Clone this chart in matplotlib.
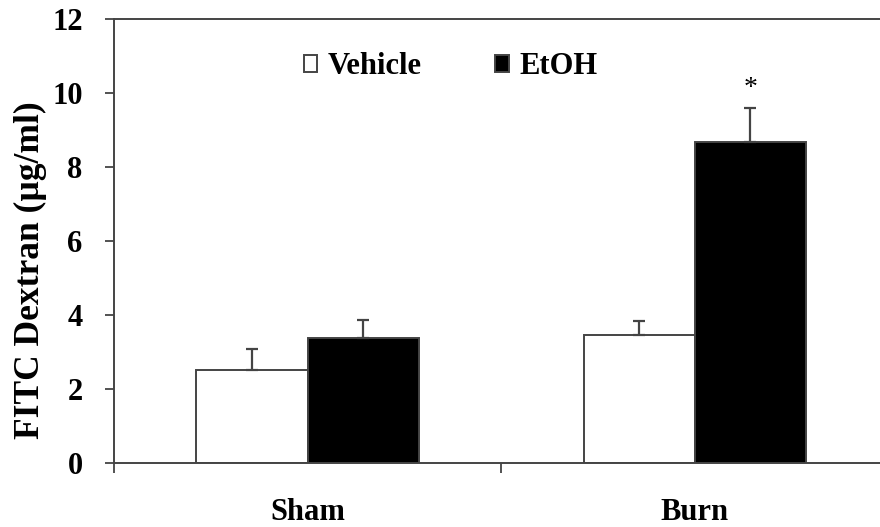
import matplotlib
matplotlib.use("Agg")
import matplotlib.pyplot as plt
from matplotlib.patches import Patch
import numpy as np

# FITC dextran in serum, mean + SEM
groups = ["Sham", "Burn"]
vehicle = [2.52, 3.46]
vehicle_err = [0.57, 0.38]
etoh = [3.38, 8.69]
etoh_err = [0.49, 0.91]

plt.rcParams["font.family"] = ["Liberation Serif", "DejaVu Serif"]
plt.rcParams["font.weight"] = "bold"

fig = plt.figure(figsize=(8.8, 5.27), dpi=100)
ax = fig.add_axes([0.1295, 0.1214, 0.88, 0.8416])

x = np.arange(len(groups))
w = 0.287
edge = "#444444"
err_kw = dict(ecolor=edge, elinewidth=1.6, capsize=4, capthick=1.6)

ax.bar(x - w / 2, vehicle, w, color="white", edgecolor=edge, linewidth=1.4,
       yerr=[np.zeros(2), vehicle_err], error_kw=err_kw, zorder=2)
ax.bar(x + w / 2, etoh, w, color="black", edgecolor=edge, linewidth=1.4,
       yerr=[np.zeros(2), etoh_err], error_kw=err_kw, zorder=2)

# significance marker over Burn / EtOH
ax.annotate("*", (x[1] + w / 2, etoh[1] + etoh_err[1]), xytext=(0, 5),
            textcoords="offset points", ha="center", va="bottom",
            fontsize=20, fontweight="normal")

ax.set_xlim(-0.5, 1.5)
ax.set_ylim(0, 12)
ax.set_yticks(range(0, 13, 2))
ax.set_xticks([-0.5, 0.5, 1.5])
ax.set_xticklabels([])
ax.set_xticks(x, minor=True)
ax.set_xticklabels(groups, minor=True)
ax.tick_params(axis="x", which="minor", length=0, pad=25, labelsize=22)
ax.tick_params(axis="x", which="major", length=7, width=1.3, color=edge)
ax.tick_params(axis="y", length=6.5, width=1.3, color=edge, pad=16, labelsize=22)

for side in ["left", "bottom", "top"]:
    ax.spines[side].set_color(edge)
    ax.spines[side].set_linewidth(1.4)
ax.spines["right"].set_visible(False)

ax.set_ylabel("FITC Dextran (\u00b5g/ml)", fontsize=25.5, fontweight="bold")
ax.yaxis.set_label_coords(-0.087, 0.435)

handles = [Patch(facecolor="white", edgecolor=edge, linewidth=1.4),
           Patch(facecolor="black", edgecolor=edge, linewidth=1.4)]
ax.legend(handles, ["Vehicle", "EtOH"], ncol=2, frameon=False,
          loc="center", bbox_to_anchor=(0.435, 0.893),
          prop={"size": 22, "weight": "bold"},
          handlelength=0.45, handleheight=0.45, handletextpad=0.35,
          columnspacing=2.4)

fig.savefig("out.png", dpi=100)
